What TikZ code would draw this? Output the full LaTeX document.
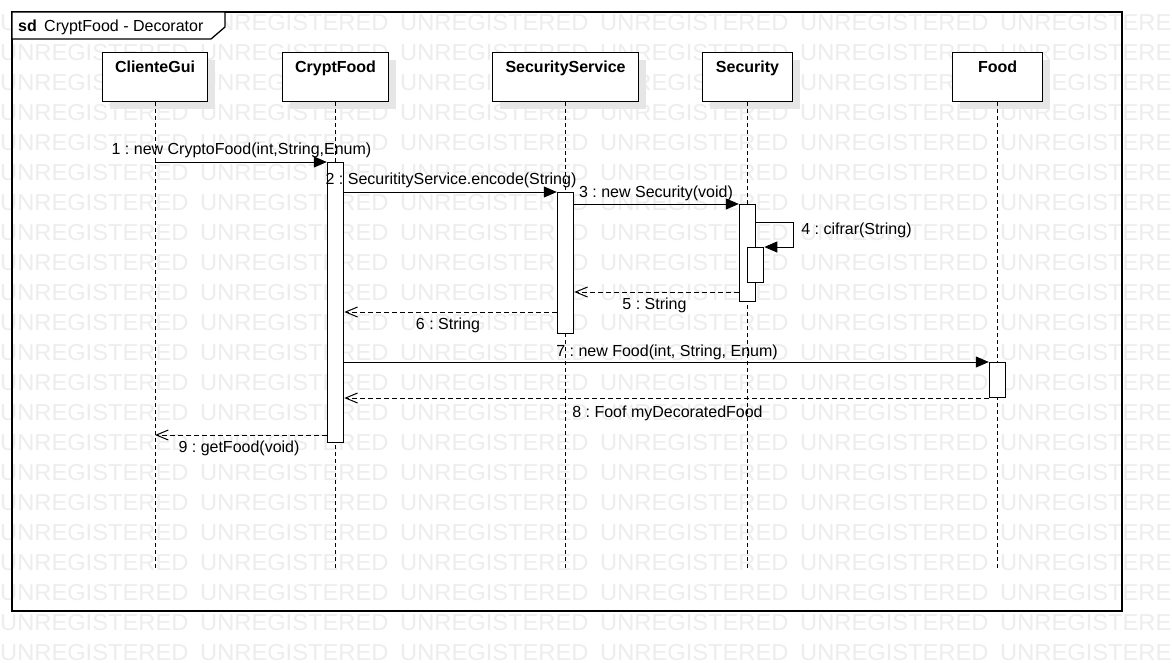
\documentclass[tikz,border=0pt]{standalone}
\usepackage{fontspec}
\setmainfont{Liberation Sans}
\usetikzlibrary{arrows.meta}
\frenchspacing
\definecolor{wmc}{HTML}{EDEDED}
\definecolor{shadowc}{HTML}{E6E6E6}
\tikzset{
  wmtext/.style={anchor=base west, inner sep=0, text=wmc, font=\fontsize{23}{23}\selectfont},
  frameline/.style={draw=black, line width=1.3pt},
  head/.style={draw=black, line width=1.1pt, fill=white, minimum width=#1, minimum height=49, anchor=north west, inner sep=0},
  hshadow/.style={fill=shadowc, draw=none},
  headlabel/.style={font=\bfseries\fontsize{16}{18}\selectfont, anchor=base, inner sep=0},
  lifeline/.style={line width=1pt, dash pattern=on 4pt off 3pt},
  act/.style={draw=black, line width=1pt, fill=white, anchor=north, inner sep=0, minimum width=16.5},
  call/.style={line width=1pt, -{Triangle[length=13pt,width=11pt]}},
  ret/.style={line width=1pt, dash pattern=on 5pt off 3pt, -{Straight Barb[length=12pt,width=10pt]}},
  msglabel/.style={font=\fontsize{16}{18}\selectfont, anchor=base, inner sep=0},
}
\begin{document}
\begin{tikzpicture}[x=1pt,y=-1pt]
\useasboundingbox (0,0) rectangle (1172,662);
\fill[white] (0,0) rectangle (1172,662);
% watermark
\begin{scope}
\clip (0,0) rectangle (1172,662);
\foreach \r in {0,...,21}{
  \foreach \c in {0,...,5}{
    \node[wmtext] (wm-\r-\c) at (200*\c, 30+30*\r) {\scalebox{1.03}[1]{UNREGISTERED}};
  }
}
\end{scope}
% frame
\draw[frameline] (12,12) rectangle (1122,611);
\draw[frameline, fill=white] (12,12) -- (225,12) -- (225,27) -- (211,39) -- (12,39) -- cycle;
\node[anchor=base west, inner sep=0, font=\bfseries\fontsize{16}{18}\selectfont] (sd) at (18,31) {sd};
\node[anchor=base west, inner sep=0, font=\fontsize{16}{18}\selectfont] (title) at (44,31) {CryptFood - Decorator};
% heads with shadows
\fill[hshadow] (110,60) rectangle (215,109);
\fill[hshadow] (290,60) rectangle (396,109);
\fill[hshadow] (500,60) rectangle (646,109);
\fill[hshadow] (710,60) rectangle (800,109);
\fill[hshadow] (960,60) rectangle (1050,109);
\node[head=105] (cg) at (102,52) {};
\node[head=106] (cf) at (282,52) {};
\node[head=146] (ss) at (492,52) {};
\node[head=90] (sec) at (702,52) {};
\node[head=90] (food) at (952,52) {};
\node[headlabel] (cgl) at (cg.north |- 0,72.5) {ClienteGui};
\node[headlabel] (cfl) at (cf.north |- 0,72.5) {CryptFood};
\node[headlabel] (ssl) at (ss.north |- 0,72.5) {SecurityService};
\node[headlabel] (secl) at (sec.north |- 0,72.5) {Security};
\node[headlabel] (foodl) at (food.north |- 0,72.5) {Food};
% lifelines
\coordinate (bottom) at (0,570);
\draw[lifeline] (cg.south) -- (cg.south |- bottom);
\draw[lifeline] (cf.south) -- (cf.south |- bottom);
\draw[lifeline] (ss.south) -- (ss.south |- bottom);
\draw[lifeline] (sec.south) -- (sec.south |- bottom);
\draw[lifeline] (food.south) -- (food.south |- bottom);
% activations
\coordinate (t1) at (0,162);
\coordinate (t2) at (0,192);
\coordinate (t3) at (0,204);
\coordinate (t4) at (0,247);
\coordinate (t7) at (0,362);
\node[act, minimum height=280] (acf) at (cf.south |- t1) {};
\node[act, minimum height=141] (ass) at (ss.south |- t2) {};
\node[act, minimum height=97] (asec) at (sec.south |- t3) {};
\node[act, minimum height=35] (asec2) at ([xshift=8]sec.south |- t4) {};
\node[act, minimum height=35] (afood) at (food.south |- t7) {};
% messages
\coordinate (y4) at (0,222);
\coordinate (y5) at (0,292);
\coordinate (y6) at (0,312);
\coordinate (y9) at (0,435);
\draw[call] (cg.south |- t1) -- (acf.north west);
\draw[call] (acf.east |- t2) -- (ass.north west);
\draw[call] (ass.east |- t3) -- (asec.north west);
\draw[call] (asec.east |- y4) -- ++(37,0) |- (asec2.north east);
\draw[ret] (asec.west |- y5) -- (ass.east |- y5);
\draw[ret] (ass.west |- y6) -- (acf.east |- y6);
\draw[call] (acf.east |- t7) -- (afood.north west);
\draw[ret] (afood.south west) -- (acf.east |- afood.south);
\draw[ret] (acf.west |- y9) -- (cg.south |- y9);
% labels
\node[msglabel] (l1) at (241.5,154) {1 : new CryptoFood(int,String,Enum)};
\node[msglabel] (l2) at (451,184) {2 : SecuritityService.encode(String)};
\node[msglabel] (l3) at (656,197) {3 : new Security(void)};
\node[msglabel] (l4) at (856.5,234) {4 : cifrar(String)};
\node[msglabel] (l5) at (654.5,309) {5 : String};
\node[msglabel] (l6) at (448,329) {6 : String};
\node[msglabel] (l7) at (667,356) {7 : new Food(int, String, Enum)};
\node[msglabel] (l8) at (667.5,417) {8 : Foof myDecoratedFood};
\node[msglabel] (l9) at (239,452) {9 : getFood(void)};
\end{tikzpicture}
\end{document}
